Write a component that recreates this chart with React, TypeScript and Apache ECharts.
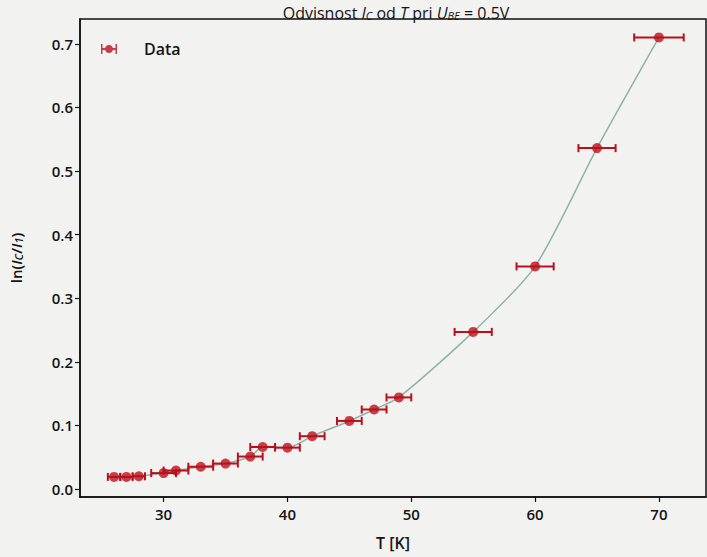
import React, { useEffect, useRef } from "react";
import * as echarts from "echarts";

// Temperature T [K]
const temperatures = [26, 27, 28, 30, 31, 33, 35, 37, 38, 40, 42, 45, 47, 49, 55, 60, 65, 70];
// ln(I_C / I_1)
const ratios = [0.019, 0.019, 0.02, 0.025, 0.029, 0.035, 0.04, 0.051, 0.066, 0.065, 0.083, 0.107, 0.125, 0.144, 0.247, 0.35, 0.536, 0.71];
// horizontal error (K)
const tempErrors = [0.5, 0.5, 0.5, 1, 1, 1, 1, 1, 1, 1, 1, 1, 1, 1, 1.5, 1.5, 1.5, 2];

const xTicks = [30, 40, 50, 60, 70];
const yTicks = [0, 0.1, 0.2, 0.3, 0.4, 0.5, 0.6, 0.7];

const RED = "#bb101b";
const TEAL = "#8db3ab";
const INK = "#141414";
const FONT = "'Open Sans', 'Noto Sans', sans-serif";

const errIcon =
  "path://M0,0H1.5V4H4.13A4,4 0 0 1 11.87,4H14.5V0H16V10H14.5V6H11.87A4,4 0 0 1 4.13,6H1.5V10H0Z";

export default function App() {
  const ref = useRef<HTMLDivElement>(null);

  useEffect(() => {
    if (!ref.current) return;
    const chart = echarts.init(ref.current, null, { renderer: "svg" });

    const points = temperatures.map((t, i) => [t, ratios[i]]);
    const errRows = temperatures.map((t, i) => [t, ratios[i], tempErrors[i]]);

    chart.setOption({
      animation: false,
      backgroundColor: "#f2f2f0",
      title: {
        text: "Odvisnost {i|I}{s|C} od {i|T} pri {i|U}{s|BE} = 0.5V",
        left: 391,
        textAlign: "center",
        top: 0,
        textStyle: {
          fontFamily: FONT,
          fontSize: 16,
          fontWeight: 500,
          color: INK,
          rich: {
            i: { fontFamily: FONT, fontSize: 16, fontStyle: "italic", color: INK },
            s: { fontFamily: FONT, fontSize: 11, fontStyle: "italic", color: INK, padding: [5, 0, 0, 0] },
          },
        },
      },
      legend: {
        left: 96,
        top: 36,
        itemWidth: 16,
        itemHeight: 10,
        data: [{ name: "Data", icon: errIcon, itemStyle: { color: RED } }],
        textStyle: {
          fontFamily: FONT,
          fontSize: 16,
          fontWeight: 600,
          color: INK,
          padding: [0, 0, 0, 22],
        },
      },
      grid: {
        left: 77,
        right: 1,
        top: 19,
        bottom: 60,
        show: true,
        borderColor: "#111",
        borderWidth: 1.5,
        backgroundColor: "transparent",
      },
      xAxis: {
        type: "value",
        min: 23.25,
        max: 73.8,
        name: "T [K]",
        nameLocation: "middle",
        nameGap: 38,
        nameTextStyle: { fontFamily: FONT, fontSize: 16, fontWeight: 600, color: INK },
        splitLine: { show: false },
        axisLine: { show: true, onZero: false, lineStyle: { color: "#111", width: 1.5 } },
        axisTick: { show: true, length: 5, lineStyle: { color: "#111", width: 1.2 }, customValues: xTicks },
        axisLabel: {
          customValues: xTicks,
          margin: 9,
          fontFamily: FONT,
          fontSize: 15,
          fontWeight: 600,
          color: INK,
        },
      },
      yAxis: {
        type: "value",
        min: -0.0126,
        max: 0.739,
        name: "ln({i|I}{s|C}/{i|I}{s|1})",
        nameLocation: "middle",
        nameRotate: 90,
        nameGap: 56,
        nameTextStyle: {
          fontFamily: FONT,
          fontSize: 15,
          fontWeight: 600,
          color: INK,
          rich: {
            i: { fontFamily: FONT, fontSize: 15, fontStyle: "italic", fontWeight: 600, color: INK },
            s: { fontFamily: FONT, fontSize: 11, fontStyle: "italic", fontWeight: 600, color: INK, padding: [6, 0, 0, 0] },
          },
        },
        splitLine: { show: false },
        axisLine: { show: true, onZero: false, lineStyle: { color: "#111", width: 1.5 } },
        axisTick: { show: true, length: 5, lineStyle: { color: "#111", width: 1.2 }, customValues: yTicks },
        axisLabel: {
          customValues: yTicks,
          margin: 7,
          fontFamily: FONT,
          fontSize: 15,
          fontWeight: 600,
          color: INK,
          formatter: (v: number) => v.toFixed(1),
        },
      },
      series: [
        {
          name: "fit",
          type: "line",
          data: points,
          showSymbol: false,
          smooth: 0.25,
          lineStyle: { color: TEAL, width: 1.5 },
          z: 1,
          silent: true,
        },
        {
          name: "errors",
          type: "custom",
          data: errRows,
          encode: { x: 0, y: 1 },
          z: 2,
          renderItem: (params: any, api: any) => {
            const x = api.value(0);
            const y = api.value(1);
            const e = api.value(2);
            const p1 = api.coord([x - e, y]);
            const p2 = api.coord([x + e, y]);
            const h = 4;
            const st = { stroke: RED, lineWidth: 2 };
            return {
              type: "group",
              children: [
                { type: "line", shape: { x1: p1[0], y1: p1[1], x2: p2[0], y2: p2[1] }, style: st },
                { type: "line", shape: { x1: p1[0], y1: p1[1] - h, x2: p1[0], y2: p1[1] + h }, style: st },
                { type: "line", shape: { x1: p2[0], y1: p2[1] - h, x2: p2[0], y2: p2[1] + h }, style: st },
              ],
            };
          },
        },
        {
          name: "Data",
          type: "scatter",
          data: points,
          symbol: "circle",
          symbolSize: 10,
          itemStyle: { color: RED },
          z: 3,
        },
      ],
    });

    return () => chart.dispose();
  }, []);

  return (
    <div
      ref={ref}
      style={{ position: "fixed", left: 0, top: 0, width: 707, height: 557 }}
    />
  );
}
